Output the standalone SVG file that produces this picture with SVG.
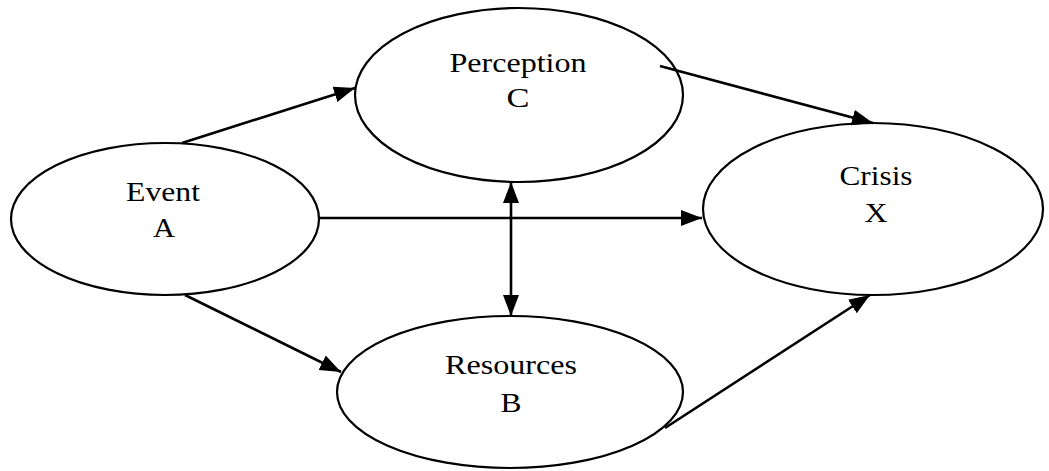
<svg xmlns="http://www.w3.org/2000/svg" width="1049" height="471" viewBox="0 0 1049 471">
<style>
.node ellipse{fill:#fff;stroke:#000;stroke-width:2.2}
.node text{font-family:"Liberation Serif","Times New Roman",serif;font-size:28px;fill:#000;text-anchor:middle}
.edges line{stroke:#000;stroke-width:2.6}
</style>
<defs>
<marker id="ah" markerUnits="userSpaceOnUse" markerWidth="24" markerHeight="18" refX="21" refY="8" orient="auto-start-reverse">
<path d="M0,0 L21,8 L0,16 z" fill="#000"/>
</marker>
</defs>
<rect width="1049" height="471" fill="#fff"/>
<g id="event" class="node">
<ellipse cx="165" cy="219" rx="154" ry="76"/>
<text x="163" y="201" textLength="74" lengthAdjust="spacingAndGlyphs">Event</text>
<text x="164" y="237" textLength="22" lengthAdjust="spacingAndGlyphs">A</text>
</g>
<g id="perception" class="node">
<ellipse cx="519" cy="95" rx="164" ry="87"/>
<text x="518" y="72" textLength="137" lengthAdjust="spacingAndGlyphs">Perception</text>
<text x="518" y="107" textLength="23" lengthAdjust="spacingAndGlyphs">C</text>
</g>
<g id="resources" class="node">
<ellipse cx="510" cy="392" rx="173" ry="76"/>
<text x="511" y="374" textLength="132" lengthAdjust="spacingAndGlyphs">Resources</text>
<text x="511" y="412" textLength="21" lengthAdjust="spacingAndGlyphs">B</text>
</g>
<g id="crisis" class="node">
<ellipse cx="873" cy="209" rx="170" ry="86"/>
<text x="876" y="185" textLength="73" lengthAdjust="spacingAndGlyphs">Crisis</text>
<text x="876" y="222" textLength="23" lengthAdjust="spacingAndGlyphs">X</text>
</g>
<g id="connectors" class="edges">
<line x1="182" y1="143" x2="355" y2="88" marker-end="url(#ah)"/>
<line x1="660" y1="66" x2="873" y2="123" marker-end="url(#ah)"/>
<line x1="319" y1="218" x2="702" y2="218" marker-end="url(#ah)"/>
<line x1="511" y1="182" x2="511" y2="316" marker-start="url(#ah)" marker-end="url(#ah)"/>
<line x1="185" y1="295" x2="341" y2="372" marker-end="url(#ah)"/>
<line x1="665" y1="428" x2="870" y2="295" marker-end="url(#ah)"/>
</g>
</svg>
